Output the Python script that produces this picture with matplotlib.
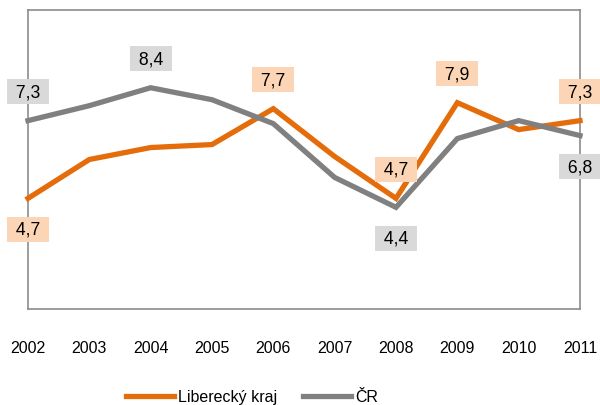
import matplotlib.pyplot as plt

plt.rcParams["font.family"] = ["Liberation Sans", "DejaVu Sans"]

years = ["2002", "2003", "2004", "2005", "2006", "2007", "2008", "2009", "2010", "2011"]
liberec = [4.7, 6.0, 6.4, 6.5, 7.7, 6.1, 4.7, 7.9, 7.0, 7.3]
cr = [7.3, 7.8, 8.4, 8.0, 7.2, 5.4, 4.4, 6.7, 7.3, 6.8]

# which points get a value label, and on which side (+1 above, -1 below)
liberec_labels = {0: -1, 4: 1, 6: 1, 7: 1, 9: 1}
cr_labels = {0: 1, 2: 1, 6: -1, 9: -1}

ORANGE = "#E46C0A"
GREY = "#808080"

fig = plt.figure(figsize=(6.0, 4.06), dpi=100)
ax = fig.add_axes([28 / 600, 1 - 310 / 406, 552 / 600, 299 / 406])

x = list(range(len(years)))
ax.plot(x, liberec, color=ORANGE, linewidth=3.8, label="Liberecký kraj",
        solid_joinstyle="miter", clip_on=False, zorder=3)
ax.plot(x, cr, color=GREY, linewidth=3.8, label="ČR",
        solid_joinstyle="miter", clip_on=False, zorder=3)


def label_points(vals, where, bg):
    for i, side in where.items():
        off = 29 if side > 0 else -31
        txt = " " + f"{vals[i]:.1f}".replace(".", ",") + " "
        ax.annotate(txt, (x[i], vals[i]),
                    xytext=(0, off), textcoords="offset pixels",
                    ha="center", va="center", fontsize=12.7, color="black",
                    bbox=dict(boxstyle="square,pad=0.22", fc=bg, ec="none"),
                    zorder=5)


label_points(liberec, liberec_labels, "#FBD5B5")
label_points(cr, cr_labels, "#D9D9D9")

ax.set_xlim(0, len(years) - 1)
ax.set_ylim(1, 11)
ax.set_xticks(x)
ax.set_xticklabels(years, fontsize=11.5)
ax.set_yticks([])
ax.tick_params(axis="x", length=0, pad=22)
for s in ax.spines.values():
    s.set_color("#8C8C8C")
    s.set_linewidth(1.2)

fig.legend(loc="center", bbox_to_anchor=(252 / 600, 1 - 398 / 406), ncol=2,
           frameon=False, fontsize=11.5, handlelength=3.0, handletextpad=0.25,
           columnspacing=1.6)

fig.savefig("out.png", dpi=100)
